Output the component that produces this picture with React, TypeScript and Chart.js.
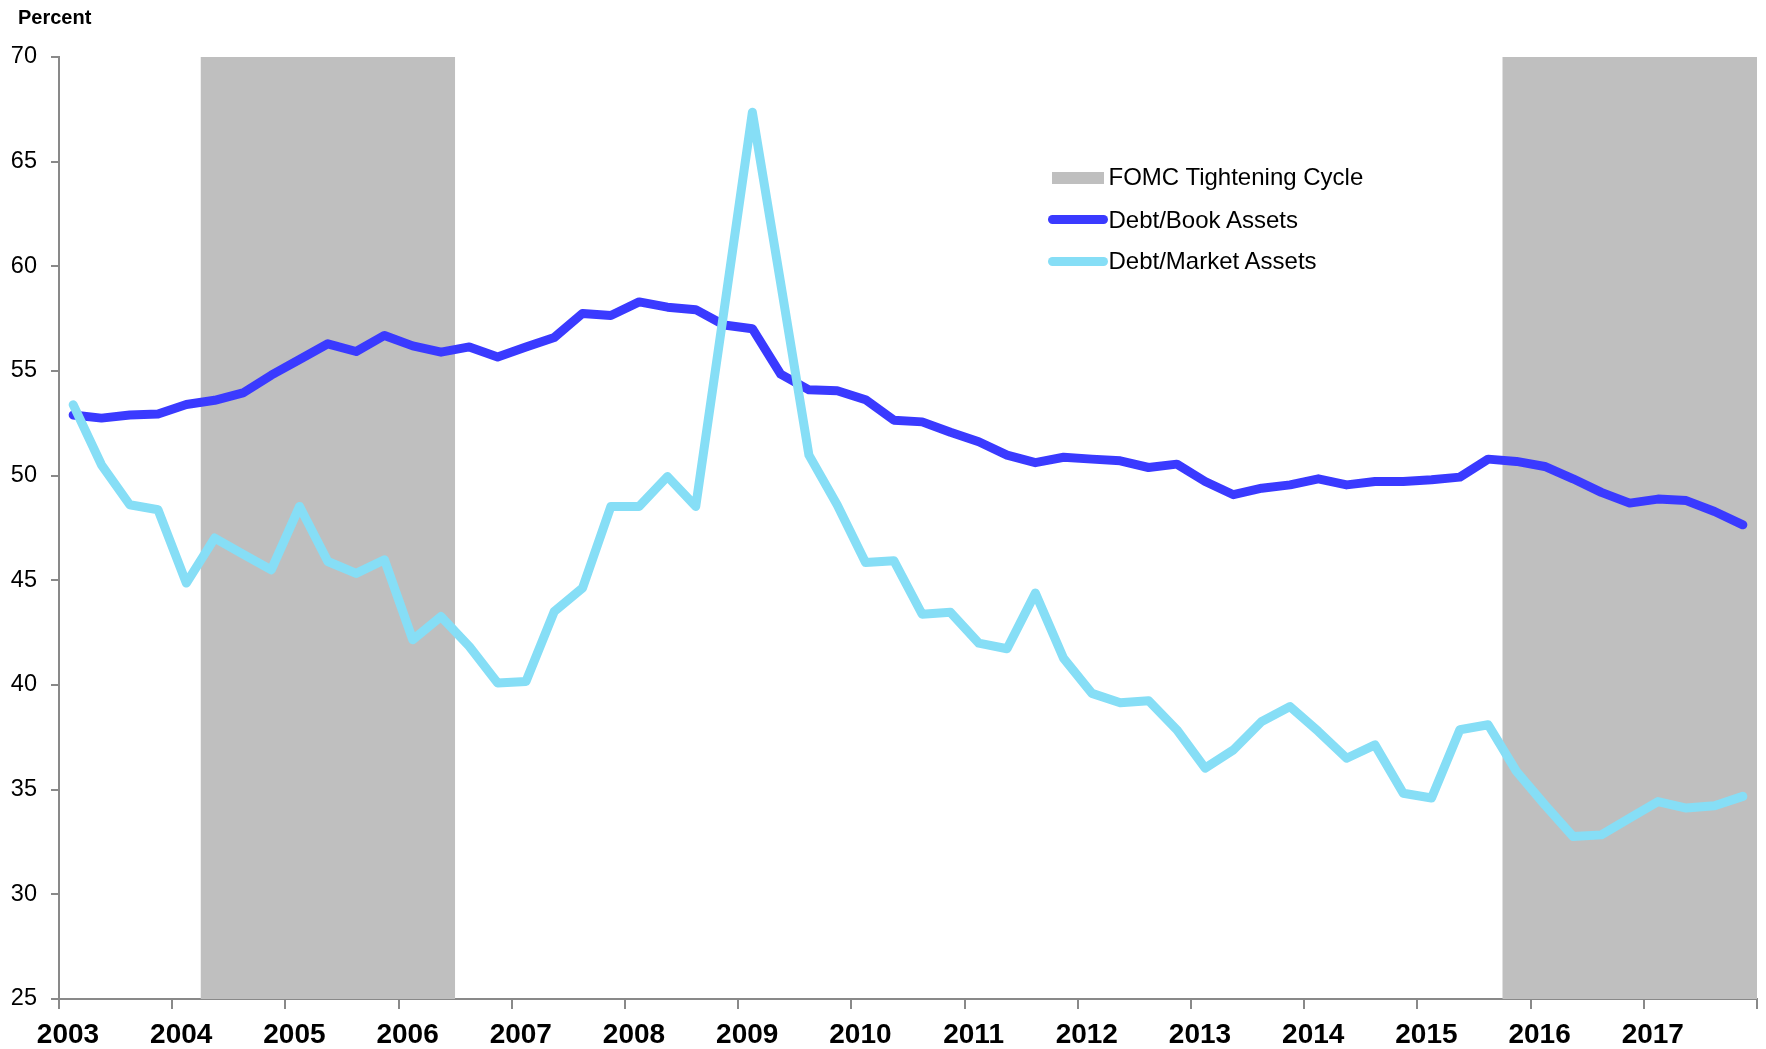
import React, { useEffect, useRef } from "react";
import { Chart, registerables } from "chart.js";

Chart.register(...registerables);

const startYear = 2003;
const endYear = 2018;
const yTicksMin = 25;
const yTicksMax = 70;

const debtBook = [
  52.9, 52.75, 52.9, 52.95, 53.4, 53.6, 53.95, 54.8, 55.55, 56.3,
  55.93, 56.7, 56.2, 55.9, 56.15, 55.67, 56.15, 56.6, 57.75, 57.65,
  58.3, 58.05, 57.93, 57.2, 57.02, 54.85, 54.1, 54.06, 53.63, 52.65,
  52.57, 52.07, 51.62, 50.98, 50.62, 50.88, 50.79, 50.71, 50.39, 50.55,
  49.72, 49.09, 49.4, 49.56, 49.85, 49.56, 49.72, 49.72, 49.8, 49.93,
  50.79, 50.68, 50.44, 49.85, 49.2, 48.69, 48.88, 48.81, 48.29, 47.65,
];

const debtMarket = [
  53.39, 50.52, 48.61, 48.37, 44.87, 47.02, 46.25, 45.5, 48.53, 45.9,
  45.33, 45.98, 42.16, 43.27, 41.84, 40.09, 40.17, 43.51, 44.63, 48.53,
  48.53, 49.96, 48.53, 57.9, 67.36, 59.2, 50.98, 48.6, 45.85, 45.94,
  43.38, 43.47, 42.0, 41.73, 44.39, 41.27, 39.6, 39.15, 39.25, 37.86,
  36.03, 36.9, 38.26, 38.97, 37.78, 36.5, 37.14, 34.83, 34.6, 37.86,
  38.1, 35.87, 34.28, 32.76, 32.84, 33.64, 34.43, 34.12, 34.23, 34.68,
];

// FOMC tightening cycles (start, end) in fractional years
const tighteningStarts = [2004.25, 2015.75];
const tighteningEnds = [2006.5, 2018];

const BLUE = "#3a3aff";
const LIGHT = "#86def6";
const GRAY = "#bfbfbf";
const AXIS = "#898989";
const FONT = "'Liberation Sans', Arial, sans-serif";

// quarter midpoint on the year axis
const quarterX = (i: number) => startYear + (i + 0.5) / 4;

export default function App() {
  const ref = useRef<HTMLCanvasElement | null>(null);

  useEffect(() => {
    if (!ref.current) return;
    const shadeSets = tighteningStarts.map((s, k) => ({
      type: "line" as const,
      label: "FOMC Tightening Cycle",
      data: [
        { x: s, y: yTicksMax },
        { x: tighteningEnds[k], y: yTicksMax },
      ],
      backgroundColor: GRAY,
      borderColor: "rgba(0,0,0,0)",
      borderWidth: 0,
      pointRadius: 0,
      fill: "start",
      tension: 0,
      order: 5 + k,
    }));

    const chart = new Chart(ref.current, {
      type: "line",
      data: {
        datasets: [
          {
            label: "Debt/Market Assets",
            data: debtMarket.map((v, i) => ({ x: quarterX(i), y: v })),
            borderColor: LIGHT,
            backgroundColor: LIGHT,
            borderWidth: 9,
            pointRadius: 0,
            tension: 0,
            borderCapStyle: "round",
            borderJoinStyle: "round",
            fill: false,
            order: 0,
          },
          {
            label: "Debt/Book Assets",
            data: debtBook.map((v, i) => ({ x: quarterX(i), y: v })),
            borderColor: BLUE,
            backgroundColor: BLUE,
            borderWidth: 9,
            pointRadius: 0,
            tension: 0,
            borderCapStyle: "round",
            borderJoinStyle: "round",
            fill: false,
            order: 1,
          },
          ...shadeSets,
        ] as any,
      },
      options: {
        animation: false,
        responsive: false,
        maintainAspectRatio: false,
        devicePixelRatio: 1,
        events: [],
        layout: { padding: { left: 0, right: 9, top: 57, bottom: 0 } },
        plugins: {
          legend: { display: false },
          tooltip: { enabled: false },
          title: { display: false },
        },
        scales: {
          x: {
            type: "linear",
            min: startYear,
            max: endYear,
            afterFit: (s: any) => {
              s.height = 50;
            },
            border: { display: true, color: AXIS, width: 2 },
            grid: {
              drawOnChartArea: false,
              drawTicks: true,
              tickLength: 10,
              color: AXIS,
              lineWidth: 2,
            },
            ticks: {
              stepSize: 1,
              autoSkip: false,
              maxRotation: 0,
              minRotation: 0,
              padding: 9,
              labelOffset: 9,
              color: "#000",
              font: { family: FONT, size: 28, weight: "bold" },
              callback: (v: any) => (Number(v) < endYear ? String(v) : ""),
            },
          },
          y: {
            type: "linear",
            min: yTicksMin,
            max: yTicksMax,
            afterFit: (s: any) => {
              s.width = 59;
            },
            border: { display: true, color: AXIS, width: 2 },
            grid: {
              drawOnChartArea: false,
              drawTicks: true,
              tickLength: 8,
              color: AXIS,
              lineWidth: 2,
            },
            ticks: {
              stepSize: 5,
              padding: 14,
              color: "#000",
              font: { family: FONT, size: 23.5 },
            },
          },
        },
      },
    });
    return () => chart.destroy();
  }, []);

  const textStyle: React.CSSProperties = {
    position: "absolute",
    fontFamily: FONT,
    fontSize: 24,
    lineHeight: "24px",
    color: "#000",
    whiteSpace: "nowrap",
  };

  return (
    <div
      style={{
        position: "fixed",
        left: 0,
        top: 0,
        width: 1766,
        height: 1049,
        background: "#fff",
        overflow: "hidden",
      }}
    >
      <canvas
        ref={ref}
        width={1766}
        height={1049}
        style={{ position: "absolute", left: 0, top: 0, width: 1766, height: 1049 }}
      />
      <div
        style={{
          position: "absolute",
          left: 18,
          top: 7,
          fontFamily: FONT,
          fontWeight: "bold",
          fontSize: 20,
          lineHeight: "20px",
          color: "#000",
        }}
      >
        Percent
      </div>
      <div style={{ position: "absolute", left: 1052, top: 172, width: 52, height: 12, background: GRAY }} />
      <div style={{ ...textStyle, left: 1108.5, top: 165 }}>FOMC Tightening Cycle</div>
      <div
        style={{
          position: "absolute",
          left: 1048,
          top: 214.8,
          width: 60,
          height: 9,
          borderRadius: 4.5,
          background: BLUE,
        }}
      />
      <div style={{ ...textStyle, left: 1108.5, top: 207.6 }}>Debt/Book Assets</div>
      <div
        style={{
          position: "absolute",
          left: 1048,
          top: 256.5,
          width: 60,
          height: 9,
          borderRadius: 4.5,
          background: LIGHT,
        }}
      />
      <div style={{ ...textStyle, left: 1108.5, top: 249.3 }}>Debt/Market Assets</div>
    </div>
  );
}
